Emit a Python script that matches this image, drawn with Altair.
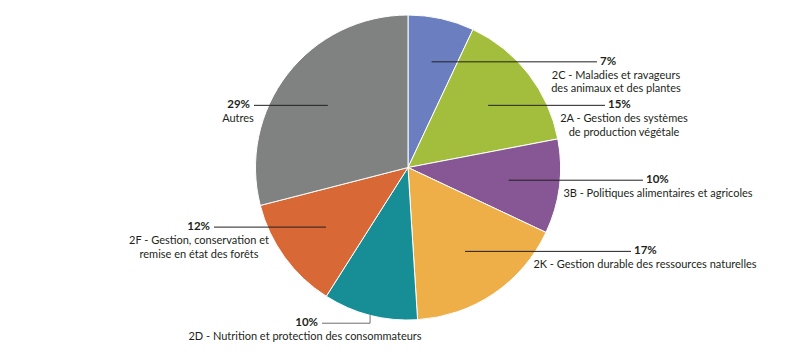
import numpy as np
import pandas as pd
import altair as alt

# ---- data ----
codes = ["2C", "2A", "3B", "2K", "2D", "2F", "Autres"]
values = [7, 15, 10, 17, 10, 12, 29]
pct_labels = ["7%", "15%", "10%", "17%", "10%", "12%", "29%"]
descriptions = [
    ["2C - Maladies et ravageurs", "des animaux et des plantes"],
    ["2A - Gestion des systèmes", "de production végétale"],
    ["3B - Politiques alimentaires et agricoles"],
    ["2K - Gestion durable des ressources naturelles"],
    ["2D - Nutrition et protection des consommateurs"],
    ["2F - Gestion, conservation et", "remise en état des forêts"],
    ["Autres"],
]
colors = ["#6b7fc0", "#a3be3c", "#875795", "#eeae48", "#178e96", "#d96837", "#7f8280"]

# ---- layout (positions only) ----
CX, CY, R = 408, 167.5, 152.5
W, H = 800, 354
anchor_frac = [0.71, 0.665, 0.665, 0.665, 1.0, 0.665, 0.665]
side = ["right", "right", "right", "right", "left", "left", "left"]
line_far_x = [597, 605, 643, 631, 322, 214, 254]
elbow_drop = [0, 0, 0, 0, 8, 0, 0]
desc_cx = [616, 624, 658, 645, 305, 199, 238]
FONT = "Lato"
TXT = "#231f20"

df = pd.DataFrame({"code": codes, "value": values, "idx": range(len(codes))})

# leader lines derived from slice mid-angles
total = sum(values)
cum = np.cumsum([0] + values[:-1])
mids = (cum + np.array(values) / 2) / total * 2 * np.pi
segs, pcts, descs = [], [], []
for i in range(len(values)):
    ax = CX + anchor_frac[i] * R * np.sin(mids[i])
    ay = CY - anchor_frac[i] * R * np.cos(mids[i])
    ly = ay + elbow_drop[i]
    if elbow_drop[i]:
        segs.append({"x": ax, "y": ay, "x2": ax, "y2": ly, "c": "#6d6e71"})
        segs.append({"x": ax, "y": ly, "x2": line_far_x[i], "y2": ly, "c": "#6d6e71"})
    else:
        segs.append({"x": ax, "y": ay, "x2": line_far_x[i], "y2": ly, "c": "#231f20"})
    px = line_far_x[i] + 3 if side[i] == "right" else line_far_x[i] - 4
    pcts.append({"x": px, "y": ly, "t": pct_labels[i], "side": side[i]})
    for j, line in enumerate(descriptions[i]):
        descs.append({"x": desc_cx[i], "y": ly + 14 + 13.5 * j, "t": line})

seg_df = pd.DataFrame(segs)
pct_df = pd.DataFrame(pcts)
desc_df = pd.DataFrame(descs)

arcs = alt.Chart(df).mark_arc(outerRadius=R, stroke="white", strokeWidth=1).encode(
    theta=alt.Theta("value:Q", stack=True),
    color=alt.Color("code:N", scale=alt.Scale(domain=codes, range=colors), legend=None),
    order=alt.Order("idx:Q"),
    x=alt.value(CX),
    y=alt.value(CY),
)

lines = alt.Chart(seg_df).mark_rule(strokeWidth=1).encode(
    x=alt.X("x:Q", scale=None),
    y=alt.Y("y:Q", scale=None),
    x2="x2:Q",
    y2="y2:Q",
    color=alt.Color("c:N", scale=None),
)

pct_right = alt.Chart(pct_df).transform_filter("datum.side == 'right'").mark_text(
    align="left", baseline="middle", font=FONT, fontSize=11.5, fontWeight="bold", color=TXT
).encode(x=alt.X("x:Q", scale=None), y=alt.Y("y:Q", scale=None), text="t:N")

pct_left = alt.Chart(pct_df).transform_filter("datum.side == 'left'").mark_text(
    align="right", baseline="middle", font=FONT, fontSize=11.5, fontWeight="bold", color=TXT
).encode(x=alt.X("x:Q", scale=None), y=alt.Y("y:Q", scale=None), text="t:N")

desc_text = alt.Chart(desc_df).mark_text(
    align="center", baseline="middle", font=FONT, fontSize=11, color=TXT
).encode(x=alt.X("x:Q", scale=None), y=alt.Y("y:Q", scale=None), text="t:N")

chart = alt.layer(arcs, lines, pct_right, pct_left, desc_text).properties(
    width=W, height=H, padding=0, autosize="none", background="white"
).configure_view(stroke=None)

chart.save("out.html", embed_options={"renderer": "svg", "actions": False})
